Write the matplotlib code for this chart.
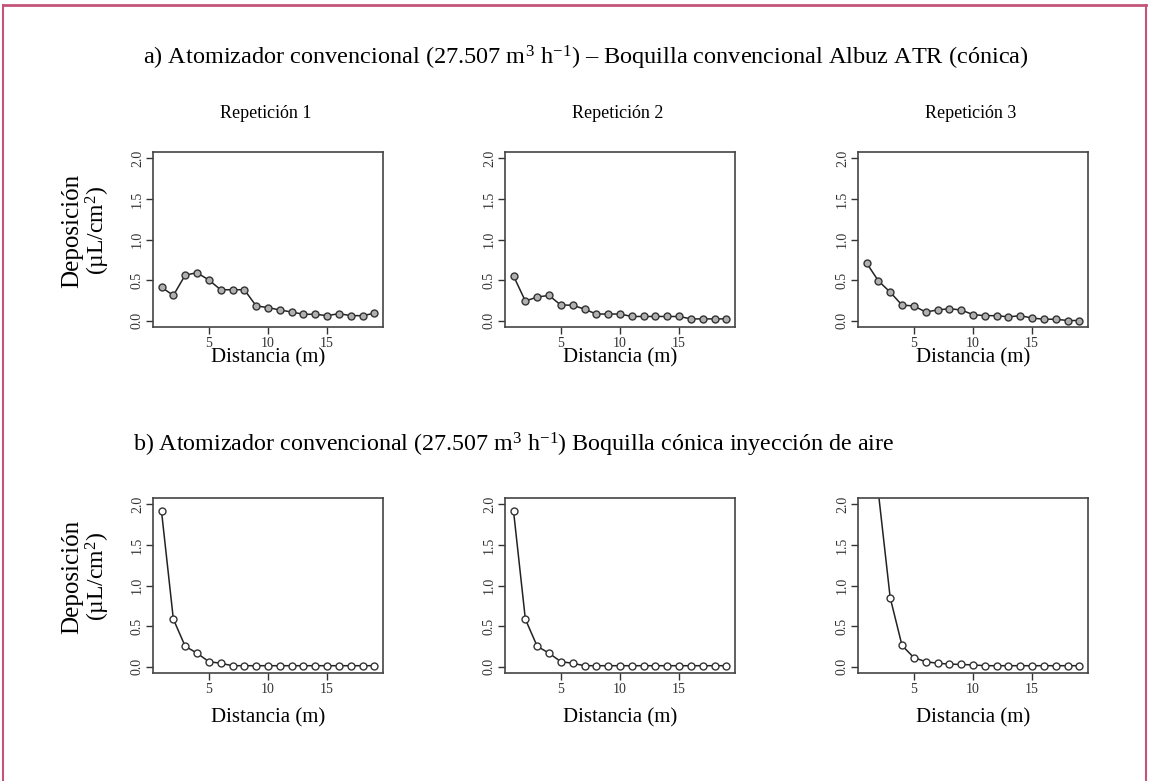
import matplotlib
matplotlib.use("Agg")
import matplotlib.pyplot as plt
from matplotlib.lines import Line2D

plt.rcParams['font.family'] = ['Liberation Serif', 'DejaVu Serif']
plt.rcParams['mathtext.fontset'] = 'custom'
plt.rcParams['mathtext.rm'] = 'Liberation Serif'
plt.rcParams['mathtext.it'] = 'Liberation Serif:italic'

# ---- data ----
distancia = list(range(1, 20))
a_rep1 = [0.41, 0.31, 0.56, 0.59, 0.50, 0.38, 0.38, 0.38, 0.18, 0.16, 0.13, 0.105, 0.077, 0.077, 0.06, 0.085, 0.06, 0.06, 0.09]
a_rep2 = [0.55, 0.24, 0.29, 0.31, 0.19, 0.19, 0.14, 0.08, 0.08, 0.08, 0.05, 0.05, 0.05, 0.05, 0.05, 0.02, 0.02, 0.02, 0.02]
a_rep3 = [0.71, 0.49, 0.35, 0.19, 0.18, 0.105, 0.13, 0.146, 0.13, 0.073, 0.06, 0.06, 0.045, 0.06, 0.03, 0.016, 0.016, 0.0, 0.0]
b_rep1 = [1.915, 0.585, 0.25, 0.165, 0.06, 0.04, 0.01, 0.01, 0.01, 0.01, 0.01, 0.01, 0.01, 0.01, 0.01, 0.01, 0.01, 0.01, 0.01]
b_rep2 = [1.92, 0.585, 0.25, 0.165, 0.06, 0.04, 0.01, 0.01, 0.01, 0.01, 0.01, 0.01, 0.01, 0.01, 0.01, 0.01, 0.01, 0.01, 0.01]
b_rep3 = [3.5, 2.15, 0.85, 0.26, 0.11, 0.06, 0.04, 0.03, 0.025, 0.02, 0.01, 0.01, 0.01, 0.01, 0.01, 0.01, 0.01, 0.01, 0.01]
rows = [[a_rep1, a_rep2, a_rep3], [b_rep1, b_rep2, b_rep3]]
rep_titles = ["Repetición 1", "Repetición 2", "Repetición 3"]
yticks = [0.0, 0.5, 1.0, 1.5, 2.0]
xticks = [5, 10, 15]
title_a = r"a) Atomizador convencional (27.507 m$^{3}$ h$^{-1}$) – Boquilla convencional Albuz ATR (cónica)"
title_b = r"b) Atomizador convencional (27.507 m$^{3}$ h$^{-1}$) Boquilla cónica inyección de aire"
xlabel = "Distancia (m)"
ylabel1 = "Deposición"
ylabel2 = "(µL/cm$^{2}$)"

W, H = 1149, 781
fig = plt.figure(figsize=(W / 100, H / 100), dpi=100)

def fx(px):
    return px / W

def fy(py):
    return 1 - py / H

col_left = [153, 505, 858]
col_w = 230
row_top = [152, 498]
row_h = 175

for r in range(2):
    for c in range(3):
        ax = fig.add_axes([fx(col_left[c]), fy(row_top[r] + row_h), fx(col_w), row_h / H])
        ax.plot(distancia, rows[r][c], color='#222222', lw=1.1, marker='o', ms=5,
                mfc='#b0b0b0' if r == 0 else 'white', mec='#333333', mew=1.0)
        ax.set_xlim(0.28, 19.72)
        ax.set_ylim(-0.08, 2.08)
        ax.set_xticks(xticks)
        ax.set_yticks(yticks)
        ax.set_yticklabels([f"{v:.1f}" for v in yticks], rotation=90, va='center')
        ax.tick_params(direction='out', length=5, width=1.0, colors='#333333',
                       labelsize=10, labelcolor='#333333')
        ax.tick_params(axis='y', pad=1.5)
        ax.tick_params(axis='x', pad=2.5)
        for s in ax.spines.values():
            s.set_color('#444444')
            s.set_linewidth(1.2)
        # x label
        ly = 358 if r == 0 else 718
        fig.text(fx(col_left[c] + col_w / 2), fy(ly), xlabel, ha='center', va='center', fontsize=15)
        if c == 0:
            cy = row_top[r] + row_h / 2 - 9
            fig.text(fx(72), fy(cy), ylabel1, rotation=90, ha='center', va='center', fontsize=18)
            fig.text(fx(98), fy(cy), ylabel2, rotation=90, ha='center', va='center', fontsize=17)

for c in range(3):
    fig.text(fx(col_left[c] + col_w / 2 - 2), fy(113), rep_titles[c], ha='center', va='center', fontsize=13)

fig.text(fx(586), fy(58), title_a, ha='center', va='center', fontsize=17.5)
fig.text(fx(133), fy(445), title_b, ha='left', va='center', fontsize=17.3)

# pink frame
frame_col = '#C4557A'
fig.add_artist(Line2D([fx(3), fx(1146)], [fy(5), fy(5)], color=frame_col, lw=2, transform=fig.transFigure))
fig.add_artist(Line2D([fx(3), fx(3)], [fy(5), fy(781)], color=frame_col, lw=1.5, transform=fig.transFigure))
fig.add_artist(Line2D([fx(1146), fx(1146)], [fy(5), fy(781)], color=frame_col, lw=1.5, transform=fig.transFigure))

fig.savefig("out.png", dpi=100)
